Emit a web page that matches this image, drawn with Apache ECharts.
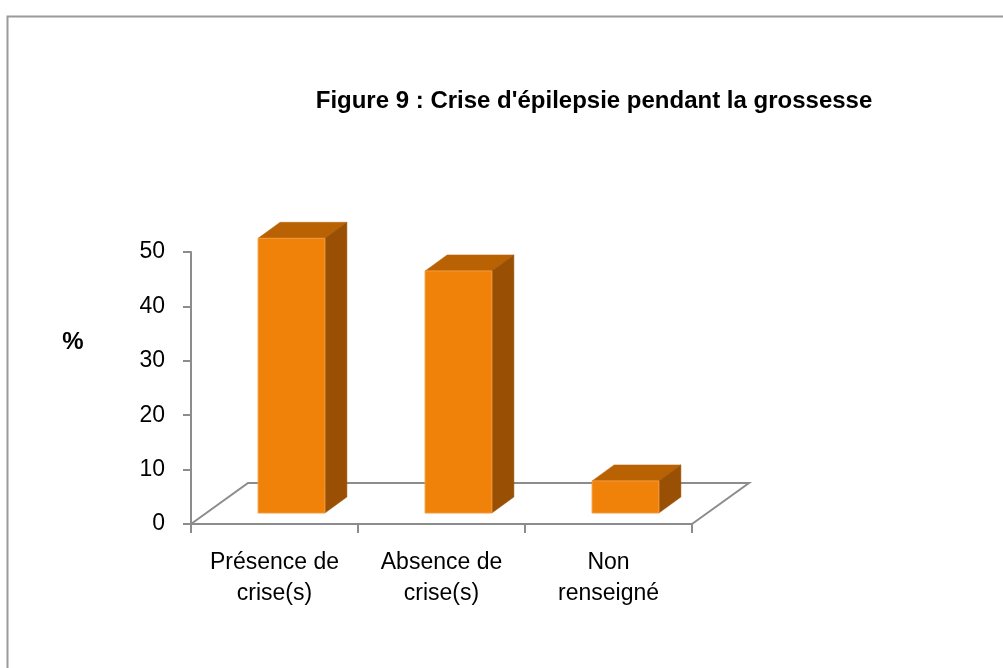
<!DOCTYPE html>
<html>
<head>
<meta charset="utf-8">
<script src="https://cdn.jsdelivr.net/npm/echarts@6/dist/echarts.min.js"></script>
<style>
  html, body { margin: 0; padding: 0; background: #ffffff; }
  #chart { width: 1003px; height: 668px; }
</style>
</head>
<body>
<div id="chart"></div>
<script>
// données
const categories = ['Présence de\ncrise(s)', 'Absence de\ncrise(s)', 'Non\nrenseigné']
const values = [50.5, 44.5, 5.9]
const yTicks = [0, 10, 20, 30, 40, 50]

const titleText = "Figure 9 : Crise d'épilepsie pendant la grossesse"

// style
const GRAY = '#8c8c8c'
const FONT = '"Liberation Sans", Arial, sans-serif'
const FRONT = '#f0820a'
const TOP = '#b86204'
const SIDE = '#9a5004'
const FLOOR_DEPTH = [57, -41]
const BAR_OFFSET = [17, -11]
const BAR_DEPTH = [22, -16]
const BAR_RATIO = 0.4

const chart = echarts.init(document.getElementById('chart'))

// sol en perspective
const renderFloor = (params, api) => {
  const band = api.size([1, 0])[0]
  const first = api.coord([0, 0])
  const last = api.coord([categories.length - 1, 0])
  const x0 = first[0] - band / 2
  const x1 = last[0] + band / 2
  const y = first[1]
  const [dx, dy] = FLOOR_DEPTH
  return {
    type: 'polyline',
    shape: { points: [[x0, y], [x0 + dx, y + dy], [x1 + dx, y + dy], [x1, y]] },
    style: { stroke: GRAY, lineWidth: 2, fill: null }
  }
}

// barre 3D
const renderBar = (params, api) => {
  const i = api.value(0)
  const top = api.coord([i, api.value(1)])
  const base = api.coord([i, 0])
  const w = api.size([1, 0])[0] * BAR_RATIO
  const x = top[0] - w / 2 + BAR_OFFSET[0]
  const yTop = top[1] + BAR_OFFSET[1]
  const yBot = base[1] + BAR_OFFSET[1]
  const [dx, dy] = BAR_DEPTH
  return {
    type: 'group',
    children: [
      {
        type: 'polygon',
        shape: { points: [[x, yTop], [x + dx, yTop + dy], [x + w + dx, yTop + dy], [x + w, yTop]] },
        style: { fill: TOP, stroke: TOP, lineWidth: 0.5 }
      },
      {
        type: 'polygon',
        shape: { points: [[x + w, yTop], [x + w + dx, yTop + dy], [x + w + dx, yBot + dy], [x + w, yBot]] },
        style: { fill: SIDE, stroke: SIDE, lineWidth: 0.5 }
      },
      {
        type: 'rect',
        shape: { x: x, y: yTop, width: w, height: yBot - yTop },
        style: { fill: FRONT, stroke: '#f29a3c', lineWidth: 1 }
      }
    ]
  }
}

const option = {
  animation: false,
  backgroundColor: '#ffffff',
  graphic: [
    {
      type: 'rect',
      left: 5, top: 14,
      shape: { width: 1100, height: 800 },
      style: { fill: null, stroke: '#9a9a9a', lineWidth: 2 },
      z: 0
    },
    {
      type: 'text',
      style: {
        text: titleText,
        x: 594, y: 101,
        align: 'center', verticalAlign: 'middle',
        font: 'bold 24px ' + FONT,
        fill: '#000000'
      }
    },
    {
      type: 'text',
      style: {
        text: '%',
        x: 73, y: 342,
        align: 'center', verticalAlign: 'middle',
        font: 'bold 24px ' + FONT,
        fill: '#000000'
      }
    }
  ],
  grid: {
    left: 191,
    top: 252,
    width: 501,
    height: 272,
    outerBoundsMode: 'none'
  },
  xAxis: {
    type: 'category',
    data: categories,
    axisLine: { lineStyle: { color: GRAY, width: 2 } },
    axisTick: { show: true, length: 9, lineStyle: { color: GRAY, width: 2 } },
    axisLabel: {
      interval: 0,
      hideOverlap: false,
      color: '#000000',
      fontFamily: FONT,
      fontSize: 23,
      lineHeight: 31,
      margin: 23
    }
  },
  yAxis: {
    type: 'value',
    min: yTicks[0],
    max: yTicks[yTicks.length - 1],
    interval: yTicks[1] - yTicks[0],
    axisLine: { show: true, lineStyle: { color: GRAY, width: 2 } },
    axisTick: { show: true, length: 8, lineStyle: { color: GRAY, width: 2 } },
    splitLine: { show: false },
    axisLabel: {
      color: '#000000',
      fontFamily: FONT,
      fontSize: 23,
      margin: 26
    }
  },
  series: [
    {
      type: 'custom',
      name: 'sol',
      renderItem: renderFloor,
      data: [[0, 0]],
      encode: { x: 0, y: 1 },
      silent: true,
      z: 1
    },
    {
      type: 'custom',
      name: 'Crise',
      renderItem: renderBar,
      data: values.map((v, i) => [i, v]),
      encode: { x: 0, y: 1 },
      z: 2
    }
  ]
}

chart.setOption(option)
</script>
</body>
</html>
